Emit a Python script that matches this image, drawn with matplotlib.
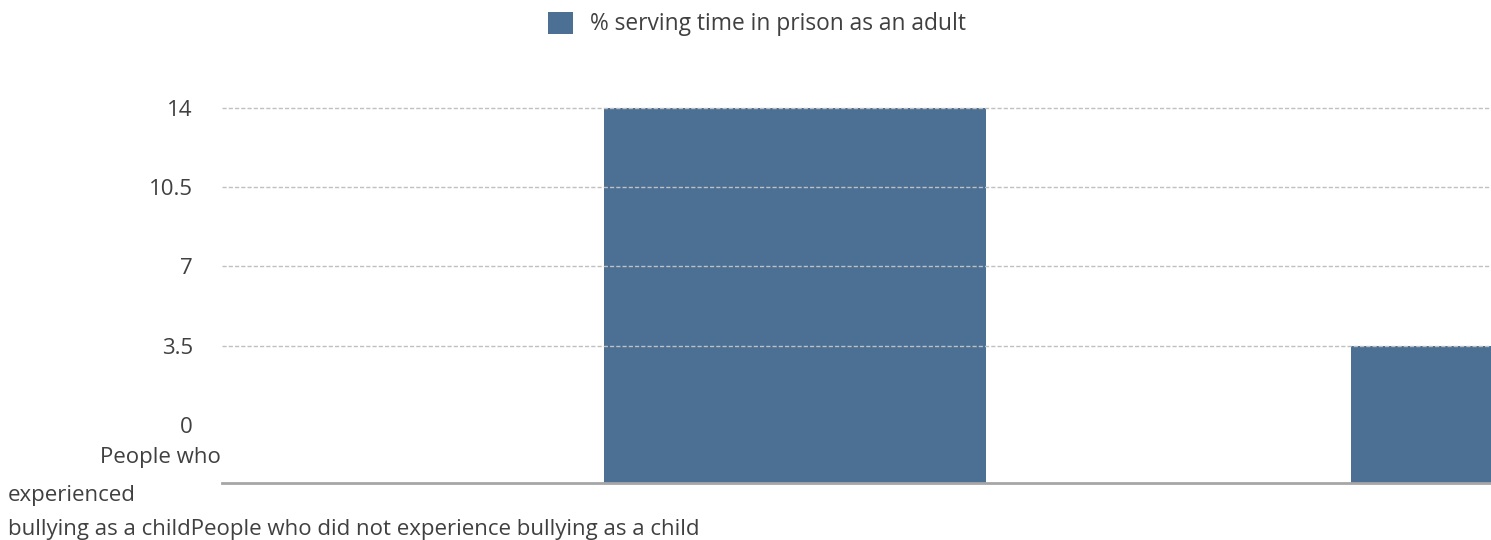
import matplotlib
matplotlib.use("Agg")
import matplotlib.pyplot as plt
from matplotlib.patches import Patch

categories = ["People who experienced bullying as a child",
              "People who did not experience bullying as a child"]
values = [14, 3.5]
series_name = "% serving time in prison as an adult"
yticks = [0, 3.5, 7, 10.5, 14]
ytick_labels = ["0", "3.5", "7", "10.5", "14"]

W, H, DPI = 1491, 540, 100
fig = plt.figure(figsize=(W / DPI, H / DPI), dpi=DPI)
plt.rcParams['font.family'] = ['Open Sans', 'DejaVu Sans']

bar_color = "#4b7094"
text_color = "#404040"
fs = 16

# axes in pixel geometry
left_px, right_px = 222, 1491
top_px, bottom_px = 60, 483
ax = fig.add_axes([left_px / W, 1 - bottom_px / H, (right_px - left_px) / W, (bottom_px - top_px) / H])

ymin = -2.57
ytop = 14 + (108 - top_px) / 22.64
ax.set_ylim(ymin, ytop)
ax.set_xlim(-0.767, 0.932)

x = list(range(len(categories)))
ax.bar(x, [v - ymin for v in values], bottom=ymin, width=0.5114, color=bar_color, zorder=2, clip_on=True)

for t in yticks:
    if t > 0:
        ax.axhline(t, color="#c0c0c0", lw=1.0, ls=(0, (3, 1.5)), zorder=3)

ax.set_yticks(yticks)
ax.set_yticklabels(ytick_labels, fontsize=fs, color=text_color)
ax.tick_params(axis='y', length=0, pad=21)
ax.set_xticks([])
for s in ["top", "right", "left"]:
    ax.spines[s].set_visible(False)
ax.spines["bottom"].set_color("#a6a6a6")
ax.spines["bottom"].set_linewidth(2)

# category labels (as rendered in the reference)
first_words = categories[0].split(" ")
fig.text(221 / W, 1 - 458 / H, " ".join(first_words[:2]), ha="right", va="center",
         fontsize=fs, color=text_color)
fig.text(8 / W, 1 - 495 / H, first_words[2], ha="left", va="center",
         fontsize=fs, color=text_color)
fig.text(8 / W, 1 - 530 / H, " ".join(first_words[3:]) + categories[1], ha="left", va="center",
         fontsize=fs, color=text_color)

# legend
fig.legend(handles=[Patch(facecolor=bar_color, edgecolor="none", label=series_name)],
           loc="center", bbox_to_anchor=(757 / W, 1 - 24 / H), frameon=False,
           fontsize=16.4, labelcolor=text_color, handlelength=1.1, handleheight=1.1,
           handletextpad=0.75)

fig.savefig("out.png", dpi=DPI)
